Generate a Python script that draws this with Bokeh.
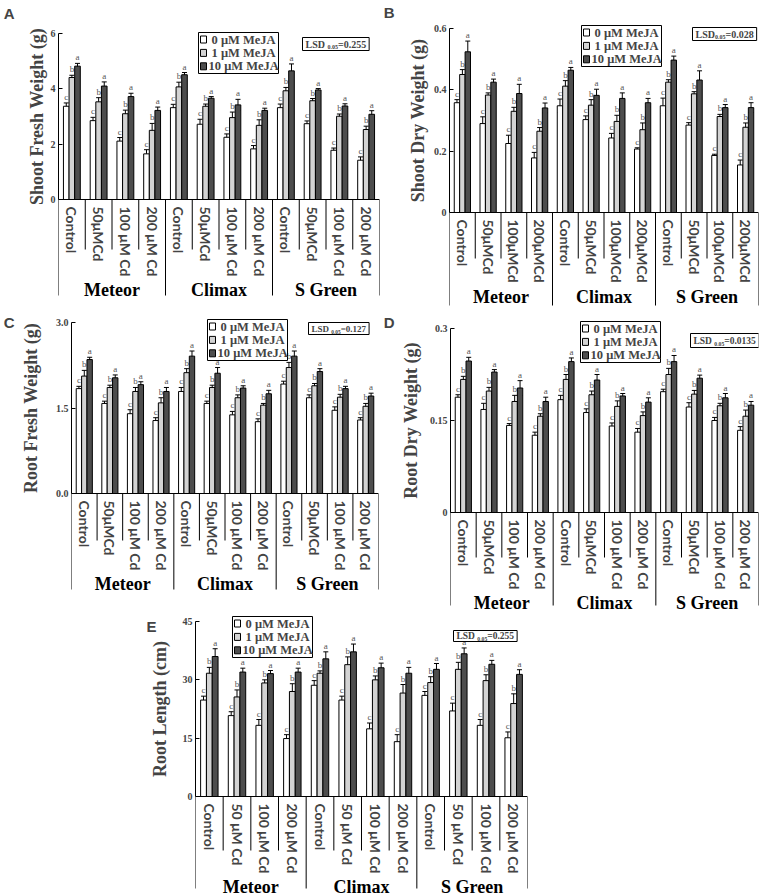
import numpy as np
from bokeh.plotting import figure
from bokeh.models import (FactorRange, Range1d, ColumnDataSource, Whisker, TeeHead,
                          Label, BoxAnnotation, LinearAxis, FixedTicker)
from bokeh.layouts import column, row
from bokeh.transform import dodge
from bokeh.core.properties import value
from bokeh.embed import file_html
from bokeh.resources import INLINE

VARIETIES = ["Meteor", "Climax", "S Green"]
SERIES = ["0 μM MeJA", "1 μM MeJA", "10 μM MeJA"]
LETTERS = ["c", "b", "a"]
TREAT_A = ["Control", "50μMCd", "100 μM Cd", "200 μM Cd"]
TREAT_B = ["Control", "50μMCd", "100μMCd", "200μMCd"]
TREAT_C = ["Control", "50μMCd", "100 μM Cd", "200 μM Cd"]
TREAT_D = ["Control", "50μMCd", "100 μM Cd", "200 μM Cd"]
TREAT_E = ["Control", "50 μM Cd", "100 μM Cd", "200 μM Cd"]

# A: Shoot fresh weight (g)
A_m0 = [3.37, 2.85, 2.11, 1.65, 3.32, 2.72, 2.25, 1.83, 3.32, 2.74, 1.78, 1.42]
A_m1 = [4.41, 3.53, 3.10, 2.50, 4.07, 3.37, 2.96, 2.68, 3.93, 3.57, 3.01, 2.53]
A_m10 = [4.82, 4.10, 3.72, 3.22, 4.51, 3.66, 3.42, 3.22, 4.65, 3.96, 3.38, 3.08]
A_e0 = [0.12, 0.12, 0.13, 0.15, 0.12, 0.18, 0.12, 0.12, 0.13, 0.10, 0.08, 0.12]
A_e1 = [0.08, 0.15, 0.13, 0.25, 0.17, 0.08, 0.20, 0.20, 0.12, 0.08, 0.08, 0.12]
A_e10 = [0.10, 0.15, 0.12, 0.12, 0.08, 0.06, 0.20, 0.08, 0.25, 0.05, 0.08, 0.13]
A_ticks = [0, 2, 4, 6]
A_ticklabels = ["0", "2", "4", "6"]

# B: Shoot dry weight (g)
B_m0 = [0.358, 0.290, 0.225, 0.178, 0.348, 0.303, 0.243, 0.207, 0.348, 0.285, 0.186, 0.155]
B_m1 = [0.450, 0.383, 0.330, 0.265, 0.412, 0.350, 0.297, 0.270, 0.425, 0.387, 0.313, 0.278]
B_m10 = [0.524, 0.425, 0.388, 0.341, 0.464, 0.382, 0.372, 0.358, 0.497, 0.432, 0.342, 0.342]
B_e0 = [0.010, 0.022, 0.027, 0.018, 0.022, 0.012, 0.015, 0.004, 0.025, 0.008, 0.004, 0.016]
B_e1 = [0.016, 0.007, 0.013, 0.012, 0.018, 0.018, 0.020, 0.022, 0.008, 0.007, 0.007, 0.014]
B_e10 = [0.035, 0.010, 0.030, 0.016, 0.009, 0.020, 0.018, 0.014, 0.013, 0.030, 0.010, 0.016]
B_ticks = [0, 0.2, 0.4, 0.6]
B_ticklabels = ["0", "0.2", "0.4", "0.6"]

# C: Root fresh weight (g)
C_m0 = [1.84, 1.58, 1.40, 1.28, 1.79, 1.58, 1.38, 1.26, 1.92, 1.68, 1.46, 1.29]
C_m1 = [2.06, 1.86, 1.79, 1.59, 2.12, 1.86, 1.68, 1.55, 2.21, 1.89, 1.69, 1.53]
C_m10 = [2.35, 2.03, 1.91, 1.79, 2.41, 2.11, 1.85, 1.75, 2.41, 2.14, 1.84, 1.71]
C_e0 = [0.04, 0.04, 0.07, 0.05, 0.07, 0.04, 0.06, 0.05, 0.05, 0.05, 0.06, 0.04]
C_e1 = [0.10, 0.04, 0.07, 0.09, 0.07, 0.04, 0.05, 0.03, 0.09, 0.04, 0.05, 0.05]
C_e10 = [0.04, 0.05, 0.05, 0.07, 0.09, 0.10, 0.04, 0.06, 0.09, 0.05, 0.04, 0.05]
C_ticks = [0, 1.5, 3.0]
C_ticklabels = ["0.0", "1.5", "3.0"]

# D: Root dry weight (g)
D_m0 = [0.188, 0.168, 0.142, 0.126, 0.184, 0.163, 0.141, 0.131, 0.197, 0.172, 0.150, 0.134]
D_m1 = [0.217, 0.198, 0.181, 0.157, 0.217, 0.192, 0.173, 0.158, 0.225, 0.193, 0.174, 0.157]
D_m10 = [0.247, 0.229, 0.203, 0.181, 0.246, 0.216, 0.190, 0.180, 0.246, 0.219, 0.187, 0.175]
D_e0 = [0.004, 0.010, 0.003, 0.005, 0.007, 0.006, 0.005, 0.006, 0.004, 0.007, 0.005, 0.006]
D_e1 = [0.005, 0.006, 0.010, 0.004, 0.008, 0.006, 0.009, 0.006, 0.010, 0.006, 0.004, 0.010]
D_e10 = [0.006, 0.004, 0.012, 0.007, 0.006, 0.009, 0.004, 0.007, 0.010, 0.005, 0.007, 0.006]
D_ticks = [0, 0.15, 0.3]
D_ticklabels = ["0", "0.15", "0.3"]

# E: Root length (cm)
E_m0 = [24.8, 20.8, 18.3, 14.9, 28.6, 24.8, 17.4, 14.1, 26.0, 22.0, 18.3, 15.1]
E_m1 = [31.7, 25.6, 29.2, 27.0, 31.7, 33.9, 30.0, 26.6, 29.3, 32.7, 29.8, 23.9]
E_m10 = [36.0, 32.0, 31.6, 32.0, 35.4, 37.2, 33.1, 31.7, 32.7, 36.7, 34.0, 31.4]
E_e0 = [1.0, 1.0, 1.5, 1.0, 1.2, 1.0, 1.5, 1.8, 1.0, 2.0, 1.5, 1.5]
E_e1 = [1.5, 1.8, 0.8, 2.0, 0.6, 2.0, 1.0, 2.2, 1.5, 1.8, 1.5, 2.5]
E_e10 = [2.0, 1.0, 0.8, 1.0, 1.8, 2.0, 1.2, 1.5, 1.5, 1.5, 1.0, 1.2]
E_ticks = [0, 15, 30, 45]
E_ticklabels = ["0", "15", "30", "45"]

FILLS = ["#ffffff", "#d3d3d3", "#4d4d4d"]
SERIF = "Liberation Serif"
SANS = "Liberation Sans"
BAR_W = 0.21
OFFS = [-0.21, 0.0, 0.21]

# approximate advance widths (em) of Liberation Serif Bold, for laying out the LSD box
CW = {"L": 0.667, "S": 0.556, "D": 0.722, ".": 0.25, "=": 0.57, " ": 0.25}


def tw(t, fs):
    return sum(CW.get(ch, 0.5) for ch in t) * fs


def sbox(p, l, r, t, b, fill, lw=1):
    p.add_layout(BoxAnnotation(left=l, right=r, top=t, bottom=b, left_units="screen",
                               right_units="screen", top_units="screen",
                               bottom_units="screen", fill_color=fill, fill_alpha=1,
                               line_color="black", line_width=lw, line_alpha=1))


def make_panel(letter, treat, means, errs, ylabel, yend, ticks, ticklabels, geo):
    # geo: page-pixel layout of this panel (page origin at the top-left corner)
    cy, W, H, BR = geo["cy"], geo["W"], geo["H"], geo["BR"]
    fl = geo["fl"]
    BL = fl - geo["cx"]
    ft = cy + 1          # frame top
    fb = cy + H          # frame bottom
    p0, pe = geo["p0"], geo["pe"]
    s = (p0 - pe) / yend                 # px per data unit
    yhi = yend + (pe - ft) / s
    ylo = -(fb - p0) / s

    factors = [(v, t) for v in VARIETIES for t in treat]
    p = figure(x_range=FactorRange(*factors, group_padding=0, factor_padding=0,
                                   range_padding=0),
               y_range=Range1d(ylo, yhi), width=W, height=H,
               min_border_left=BL, min_border_right=BR, min_border_top=1,
               min_border_bottom=0, toolbar_location=None, output_backend="svg")
    p.outline_line_color = None
    p.xgrid.visible = False
    p.ygrid.visible = False

    for k in range(3):
        m = np.array(means[k])
        e = np.array(errs[k])
        src = ColumnDataSource(dict(x=factors, top=m, up=m + e, lo=m - e,
                                    lab=[LETTERS[k]] * len(factors)))
        xs = dodge("x", OFFS[k], range=p.x_range)
        p.vbar(x=xs, top="top", width=BAR_W, source=src, fill_color=FILLS[k],
               line_color="black", line_width=1)
        p.add_layout(Whisker(base=xs, upper="up", lower="lo", source=src,
                             line_color="black", line_width=1,
                             upper_head=TeeHead(size=5, line_color="black", line_width=1),
                             lower_head=TeeHead(size=5, line_color="black", line_width=1)))
        p.text(x=xs, y="up", text="lab", source=src, text_align="center",
               text_baseline="bottom", y_offset=-1, text_font=value(SERIF),
               text_font_size="9px", text_color="#555555")

    # y axis (bounded to the data span)
    ya = p.yaxis[0]
    ya.ticker = FixedTicker(ticks=ticks)
    ya.bounds = (0, yend)
    ya.major_label_overrides = {t: l for t, l in zip(ticks, ticklabels)}
    ya.major_tick_in = 4
    ya.major_tick_out = 0
    ya.minor_tick_in = 0
    ya.minor_tick_out = 0
    ya.axis_line_color = "black"
    ya.major_tick_line_color = "black"
    ya.major_label_text_font = SERIF
    ya.major_label_text_font_style = "bold"
    ya.major_label_text_font_size = "10px"
    ya.major_label_standoff = 3

    # y label as a single centred tick label of an extra left axis
    ymid = round(yend / 2.0, 4)
    la = LinearAxis(ticker=FixedTicker(ticks=[ymid]), major_label_overrides={ymid: ylabel},
                    major_label_orientation="vertical", axis_line_color=None,
                    major_tick_line_color=None, minor_tick_line_color=None,
                    major_tick_in=0, major_tick_out=0,
                    major_label_text_font=SERIF, major_label_text_font_style="bold",
                    major_label_text_font_size="18px",
                    major_label_standoff=geo["ylab_so"])
    p.add_layout(la, "left")

    # panel letter as a tick label of another extra left axis
    yl = round(yend + (pe - geo["let_y"]) / s, 4)
    lt = LinearAxis(ticker=FixedTicker(ticks=[yl]), major_label_overrides={yl: letter},
                    axis_line_color=None, major_tick_line_color=None,
                    minor_tick_line_color=None, major_tick_in=0, major_tick_out=0,
                    major_label_text_font=SANS, major_label_text_font_style="bold",
                    major_label_text_font_size="15px",
                    major_label_standoff=geo["let_so"])
    p.add_layout(lt, "left")

    # categorical x axis fixed at y = 0, labels drawn inside the extended frame
    xa = p.below[0]
    xa.fixed_location = 0
    xa.axis_line_color = "black"
    xa.major_tick_line_color = None
    xa.minor_tick_line_color = None
    xa.major_label_orientation = "vertical"
    xa.major_label_text_font = "Lato"
    xa.major_label_text_font_style = "bold"
    xa.major_label_text_font_size = "14px"
    xa.major_label_standoff = 1
    xa.group_text_font = SERIF
    xa.group_text_font_style = "bold"
    xa.group_text_font_size = "18px"
    xa.group_text_color = "black"
    xa.separator_line_color = None

    # separators: short between treatments, long between varieties
    n = len(factors)
    short = [float(i) for i in range(1, n) if i % 4 != 0]
    longs = [float(i) for i in range(0, n + 1) if i % 4 == 0]
    p.segment(x0=short, y0=[0] * len(short), x1=short,
              y1=[-geo["sep_s"] / s] * len(short), line_color="black", line_width=1)
    p.segment(x0=longs, y0=[0] * len(longs), x1=longs,
              y1=[-geo["sep_l"] / s] * len(longs), line_color="black", line_width=1)

    # legend box: border, swatches and labels (screen px from frame bottom-left)
    lx, ltop = geo["leg"]
    L0 = lx - fl
    T0 = fb - ltop
    sbox(p, L0, L0 + 80, T0, T0 - 41, "white")
    for k in range(3):
        cyk = T0 - 7 - 13.4 * k
        sbox(p, L0 + 2, L0 + 8, cyk + 3.5, cyk - 3.5, FILLS[k])
        p.add_layout(Label(x=L0 + 10 + (3 if k < 2 else 0), y=cyk, x_units="screen",
                           y_units="screen", text=SERIES[k], text_font=SERIF,
                           text_font_style="bold", text_font_size="12.5px",
                           text_baseline="middle"))

    # LSD box, sized from its text
    fs = geo["lsd_fs"]
    sub = round(fs * 0.6, 1)
    bx0, by0, bh = geo["lsd"]
    t1 = "LSD" + (" " if geo["lsd_space"] else "")
    t3 = "=" + geo["lsd_val"]
    wtot = tw(t1, fs) + tw("0.05", sub) + tw(t3, fs) + 6
    l = bx0 - fl
    t = fb - by0
    b = t - bh
    sbox(p, l, l + wtot, t, b, "white")
    mid = (t + b) / 2.0
    x0 = l + 3
    p.add_layout(Label(x=x0, y=mid, x_units="screen", y_units="screen", text="LSD",
                       text_font=SERIF, text_font_style="bold", text_font_size=f"{fs}px",
                       text_baseline="middle"))
    x0 += tw(t1, fs)
    p.add_layout(Label(x=x0, y=mid - 3, x_units="screen", y_units="screen", text="0.05",
                       text_font=SERIF, text_font_style="bold", text_font_size=f"{sub}px",
                       text_baseline="middle"))
    x0 += tw("0.05", sub)
    p.add_layout(Label(x=x0, y=mid, x_units="screen", y_units="screen", text=t3,
                       text_font=SERIF, text_font_style="bold", text_font_size=f"{fs}px",
                       text_baseline="middle"))
    return p


GEO_A = dict(cx=0, cy=0, W=380, H=310, BR=1, fl=53, p0=199, pe=33, ylab_so=1,
             let_y=13, let_so=9, sep_s=50, sep_l=96, leg=(193, 32),
             lsd=(297, 37, 13), lsd_fs=10, lsd_val="0.255", lsd_space=True)
GEO_B = dict(cx=380, cy=0, W=387, H=310, BR=9, fl=447, p0=212, pe=28, ylab_so=3,
             let_y=12, let_so=10, sep_s=46, sep_l=93, leg=(579, 25),
             lsd=(690, 27, 13), lsd_fs=10, lsd_val="0.028", lsd_space=False)
GEO_C = dict(cx=0, cy=310, W=380, H=303, BR=2, fl=60, p0=493, pe=322, ylab_so=12,
             let_y=315, let_so=3, sep_s=47, sep_l=96, leg=(196, 319),
             lsd=(297, 322, 12), lsd_fs=9, lsd_val="0.127", lsd_space=True)
GEO_D = dict(cx=380, cy=310, W=387, H=303, BR=9, fl=445, p0=512, pe=328, ylab_so=6,
             let_y=315, let_so=3, sep_s=45, sep_l=93, leg=(575, 321),
             lsd=(685, 333, 14), lsd_fs=9.5, lsd_val="0.0135", lsd_space=True)
GEO_E = dict(cx=0, cy=613, W=528, H=283, BR=1, fl=195, p0=796, pe=621, ylab_so=10,
             let_y=617, let_so=-10, sep_s=54, sep_l=92, leg=(232, 616),
             lsd=(453, 630, 11), lsd_fs=9.5, lsd_val="0.255", lsd_space=True)

pA = make_panel("A", TREAT_A, [A_m0, A_m1, A_m10], [A_e0, A_e1, A_e10],
                "Shoot Fresh Weight (g)", 6, A_ticks, A_ticklabels, GEO_A)
pB = make_panel("B", TREAT_B, [B_m0, B_m1, B_m10], [B_e0, B_e1, B_e10],
                "Shoot Dry Weight (g)", 0.6, B_ticks, B_ticklabels, GEO_B)
pC = make_panel("C", TREAT_C, [C_m0, C_m1, C_m10], [C_e0, C_e1, C_e10],
                "Root Fresh Weight (g)", 3.0, C_ticks, C_ticklabels, GEO_C)
pD = make_panel("D", TREAT_D, [D_m0, D_m1, D_m10], [D_e0, D_e1, D_e10],
                "Root Dry Weight (g)", 0.3, D_ticks, D_ticklabels, GEO_D)
pE = make_panel("E", TREAT_E, [E_m0, E_m1, E_m10], [E_e0, E_e1, E_e10],
                "Root Length (cm)", 45, E_ticks, E_ticklabels, GEO_E)

layout = column(row(pA, pB), row(pC, pD), row(pE))
open("out.html", "w").write(file_html(layout, INLINE))
